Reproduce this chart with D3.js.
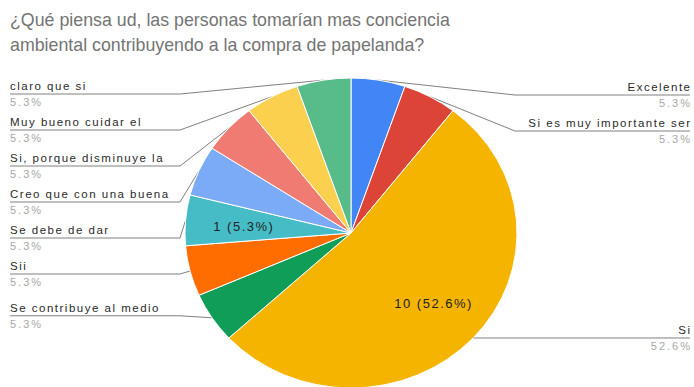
<!DOCTYPE html>
<html>
<head>
<meta charset="utf-8">
<script src="https://cdn.jsdelivr.net/npm/d3@7/dist/d3.min.js"></script>
<style>
  html, body { margin: 0; padding: 0; background: #fff; }
  svg { display: block; }
  text { font-family: "Liberation Sans", Arial, sans-serif; }
</style>
</head>
<body>
<svg id="chart" width="694" height="387"></svg>
<script>
// Survey answers, in the order the slices run clockwise from 12 o'clock
const categories = [
  "Excelente",
  "Si es muy importante ser",
  "Si",
  "Se contribuye al medio",
  "Sii",
  "Se debe de dar",
  "Creo que con una buena",
  "Si, porque disminuye la",
  "Muy bueno cuidar el",
  "claro que si"
];
const responses = [1, 1, 10, 1, 1, 1, 1, 1, 1, 1];
// Slices that carry a count label inside them
const labelledSlices = ["Si", "Se debe de dar"];
const titleLines = [
  "¿Qué piensa ud, las personas tomarían mas conciencia",
  "ambiental contribuyendo a la compra de papelanda?"
];

const palette = ["#4285f4", "#db4437", "#f4b400", "#0f9d58", "#ff6d00",
                 "#46bdc6", "#7baaf7", "#f07b72", "#fcd04f", "#57bb8a"];

const W = 694, H = 387;
const cx = 351, cy = 233, rx = 166, ry = 155;

const svg = d3.select("#chart");

// Title
svg.append("g").selectAll("text")
  .data(titleLines)
  .join("text")
  .attr("x", 10)
  .attr("y", (d, i) => 26 + i * 24.5)
  .attr("font-size", 17.8)
  .attr("fill", "#747474")
  .text(d => d);

const total = d3.sum(responses);
const data = categories.map((c, i) => ({ name: c, value: responses[i] }));
const color = d3.scaleOrdinal().domain(categories).range(palette);
const fmtPct = v => d3.format(".1f")(v / total * 100) + "%";

const pie = d3.pie().sort(null).value(d => d.value).startAngle(0).endAngle(2 * Math.PI);
const arcs = pie(data);

// point on the (slightly oval) rim of the pie at angle a, fraction f of the radius
const rim = (a, f) => [cx + rx * f * Math.sin(a), cy - ry * f * Math.cos(a)];

// Leader lines and side labels
const withMid = arcs.map(a => ({ ...a, mid: (a.startAngle + a.endAngle) / 2 }));
const left = withMid.filter(d => d.mid > Math.PI).sort((a, b) => b.mid - a.mid);
const right = withMid.filter(d => d.mid <= Math.PI).sort((a, b) => a.mid - b.mid);

const ROW = 36, TOP = 94, TOP_R = 95;
left.forEach((d, i) => {
  const p = rim(d.mid, 1);
  d.rowY = Math.max(TOP + i * ROW, p[1] - 2);
  d.pt = p; d.side = "left";
});
right.forEach((d, i) => {
  const p = rim(d.mid, 1);
  d.rowY = Math.max(TOP_R + i * ROW, p[1]);
  d.pt = p; d.side = "right";
});

const lines = svg.append("g");
const labels = svg.append("g");
[...left, ...right].forEach(d => {
  const isLeft = d.side === "left";
  const xEdge = isLeft ? 10 : 690;
  const xElbow = isLeft ? Math.min(180, d.pt[0]) : Math.max(515, d.pt[0]);
  lines.append("path")
    .attr("d", d3.line()([[xEdge, d.rowY], [xElbow, d.rowY], d.pt]))
    .attr("fill", "none")
    .attr("stroke", "#808080")
    .attr("stroke-width", 1);
  labels.append("text")
    .attr("x", isLeft ? xEdge : xEdge + 1.5)
    .attr("y", d.rowY - 4)
    .attr("text-anchor", isLeft ? "start" : "end")
    .attr("font-size", 11.5)
    .attr("letter-spacing", 1.5)
    .attr("fill", "#2a2a2a")
    .text(d.data.name);
  labels.append("text")
    .attr("x", isLeft ? xEdge : xEdge + 2)
    .attr("y", d.rowY + 12)
    .attr("text-anchor", isLeft ? "start" : "end")
    .attr("font-size", 11)
    .attr("letter-spacing", 2)
    .attr("fill", "#a8a8a8")
    .text(fmtPct(d.data.value));
});

// Pie slices (drawn over the leader lines), stretched slightly horizontally
const arc = d3.arc().innerRadius(0).outerRadius(ry);
svg.append("g")
  .attr("transform", `translate(${cx},${cy}) scale(${rx / ry},1)`)
  .selectAll("path")
  .data(arcs)
  .join("path")
  .attr("d", arc)
  .attr("fill", d => color(d.data.name))
  .attr("stroke", "#fff")
  .attr("stroke-width", 1)
  .attr("vector-effect", "non-scaling-stroke");

// Count labels inside slices
svg.append("g").selectAll("text")
  .data(withMid.filter(d => labelledSlices.includes(d.data.name)))
  .join("text")
  .attr("x", d => rim(d.mid, 0.66)[0] + 2)
  .attr("y", d => rim(d.mid, 0.66)[1] + 6)
  .attr("text-anchor", "middle")
  .attr("font-size", 13)
  .attr("letter-spacing", 1.5)
  .attr("fill", "#222")
  .text(d => `${d.data.value} (${fmtPct(d.data.value)})`);
</script>
</body>
</html>
